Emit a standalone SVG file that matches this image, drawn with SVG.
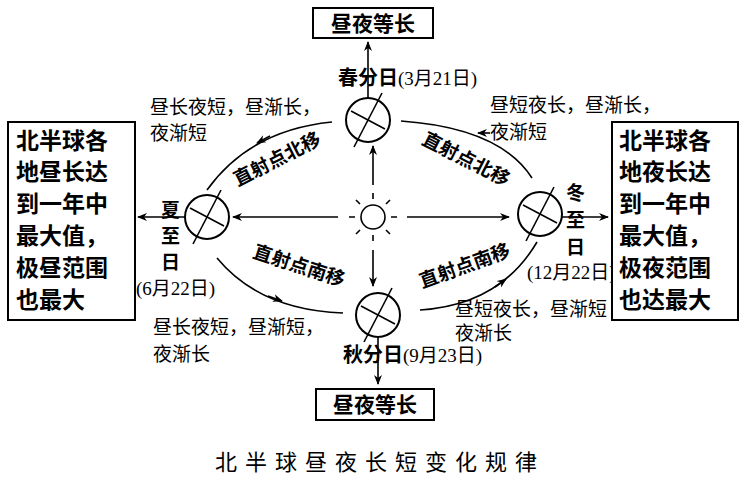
<svg xmlns="http://www.w3.org/2000/svg" width="749" height="500" viewBox="0 0 749 500">
<style>
.s{font-family:"Liberation Serif","Noto Sans CJK SC",serif;font-size:19px;fill:#000}
.b{font-family:"Noto Sans CJK SC",sans-serif;font-weight:bold;fill:#000}
.l{stroke:#000;stroke-width:1.6;fill:none}
.g{stroke:#000;stroke-width:2;fill:#fff}
</style>
<defs>
<marker id="a" markerWidth="10" markerHeight="8" refX="9" refY="4" orient="auto" markerUnits="userSpaceOnUse"><path d="M0,0 L10,4 L0,8 L3,4 Z" fill="#000"/></marker>
<g id="globe"><circle r="22" class="g"/><line x1="-17" y1="-9" x2="17" y2="9" class="l" stroke-width="2"/><line x1="-14" y1="27" x2="14" y2="-27" class="l" stroke-width="2"/></g>
</defs>
<rect width="749" height="500" fill="#fff"/>
<g id="connectors">
<line x1="368" y1="98" x2="368" y2="42" class="l" marker-end="url(#a)"/>
<line x1="378" y1="337" x2="378" y2="384" class="l" marker-end="url(#a)"/>
<line x1="185" y1="217" x2="138" y2="217" class="l" marker-end="url(#a)"/>
<line x1="560" y1="217" x2="608" y2="217" class="l" marker-end="url(#a)"/>
<line x1="373" y1="185" x2="373" y2="146" class="l" marker-end="url(#a)"/>
<line x1="373" y1="250" x2="373" y2="286" class="l" marker-end="url(#a)"/>
<line x1="338" y1="217" x2="233" y2="217" class="l" marker-end="url(#a)"/>
<line x1="407" y1="217" x2="509" y2="217" class="l" marker-end="url(#a)"/>
<path d="M332,122 Q250,130 207,190" class="l"/><path d="M270,136 L257,143" class="l" marker-end="url(#a)"/>
<path d="M401,121 Q500,128 532,178" class="l"/><path d="M490,133 L478,133" class="l" marker-end="url(#a)"/>
<path d="M217,258 Q260,310 343,313" class="l"/><path d="M268,296 L282,301" class="l" marker-end="url(#a)"/>
<path d="M420,310 Q500,305 537,242" class="l"/><path d="M495,287 L506,279" class="l" marker-end="url(#a)"/>
</g>
<g id="sun"><circle cx="373" cy="217" r="12" class="l"/>
<path d="M373,199V193M373,235V241M355,217H349M391,217H397M360,204L356,200M386,204L390,200M360,230L356,234M386,230L390,234" class="l"/></g>
<g id="spring"><use href="#globe" x="368" y="120"/><text x="338" y="85" class="s"><tspan class="b" font-size="20">春分日</tspan>(3月21日)</text></g>
<g id="summer"><use href="#globe" x="207" y="217"/><text class="b" font-size="19" x="161" y="217">夏</text><text class="b" font-size="19" x="161" y="243">至</text><text class="b" font-size="19" x="161" y="269">日</text><text x="136" y="295" class="s" font-size="15">(6月22日)</text></g>
<g id="winter"><use href="#globe" x="540" y="214"/><text class="b" font-size="19" x="566" y="200">冬</text><text class="b" font-size="19" x="566" y="227">至</text><text class="b" font-size="19" x="566" y="254">日</text><text x="527" y="279" class="s" font-size="14">(12月22日)</text></g>
<g id="autumn"><use href="#globe" x="378" y="315"/><text x="343" y="362" class="s"><tspan class="b" font-size="20">秋分日</tspan>(9月23日)</text></g>
<g id="labels">
<text x="150" y="114" class="s">昼长夜短，昼渐长，</text><text x="150" y="140" class="s">夜渐短</text>
<text x="490" y="112" class="s">昼短夜长，昼渐长，</text><text x="490" y="139" class="s">夜渐短</text>
<text x="153" y="334" class="s">昼长夜短，昼渐短，</text><text x="153" y="361" class="s">夜渐长</text>
<text x="455" y="316" class="s">昼短夜长，昼渐短</text><text x="455" y="340" class="s">夜渐长</text>
<text class="b" font-size="19" text-anchor="middle" transform="translate(280,165) rotate(-27)">直射点北移</text>
<text class="b" font-size="19" text-anchor="middle" transform="translate(463,165) rotate(27)">直射点北移</text>
<text class="b" font-size="19" text-anchor="middle" transform="translate(297,272) rotate(18)">直射点南移</text>
<text class="b" font-size="19" text-anchor="middle" transform="translate(467,272) rotate(-20)">直射点南移</text>
</g>
<g id="topbox"><rect x="313" y="8" width="120" height="30" fill="#fff" stroke="#000" stroke-width="2"/><text x="373" y="31" class="b" font-size="21" text-anchor="middle">昼夜等长</text></g>
<g id="botbox"><rect x="316" y="389" width="118" height="31" fill="#fff" stroke="#000" stroke-width="2"/><text x="375" y="412" class="b" font-size="21" text-anchor="middle">昼夜等长</text></g>
<g id="leftbox"><rect x="8" y="122" width="127" height="198" fill="#fff" stroke="#000" stroke-width="2"/>
<g class="b" font-size="23"><text x="16" y="149">北半球各</text><text x="16" y="180">地昼长达</text><text x="16" y="212">到一年中</text><text x="16" y="244">最大值，</text><text x="16" y="276">极昼范围</text><text x="16" y="308">也最大</text></g></g>
<g id="rightbox"><rect x="612" y="122" width="126" height="198" fill="#fff" stroke="#000" stroke-width="2"/>
<g class="b" font-size="23"><text x="619" y="149">北半球各</text><text x="619" y="180">地夜长达</text><text x="619" y="212">到一年中</text><text x="619" y="244">最大值，</text><text x="619" y="276">极夜范围</text><text x="619" y="308">也达最大</text></g></g>
<text x="380" y="470" font-family="Noto Sans CJK SC,sans-serif" font-size="22" text-anchor="middle" letter-spacing="8">北半球昼夜长短变化规律</text>
</svg>
